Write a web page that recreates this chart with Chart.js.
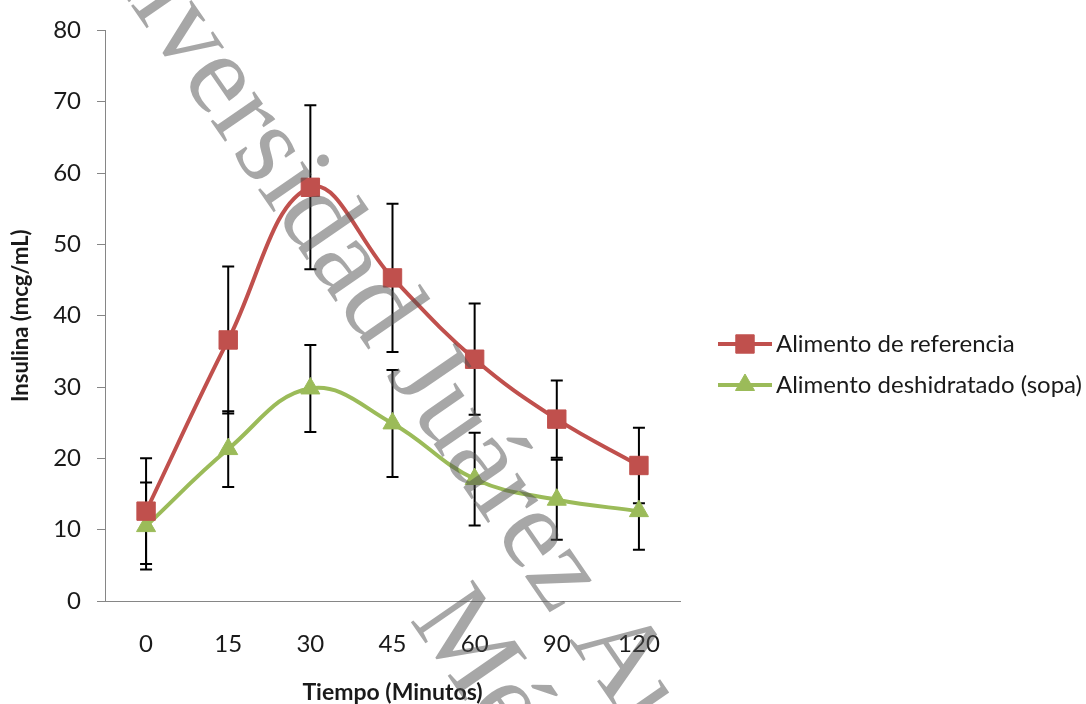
<!DOCTYPE html>
<html>
<head>
<meta charset="utf-8">
<script src="https://cdn.jsdelivr.net/npm/chart.js@4.4.1/dist/chart.umd.min.js"></script>
<style>
  html, body { margin: 0; padding: 0; background: #fff; }
  #wrap { width: 1086px; height: 704px; position: relative; }
</style>
</head>
<body>
<div id="wrap"><canvas id="insulinaChart"></canvas></div>
<script>
// Datos
const categorias = ['0', '15', '30', '45', '60', '90', '120'];
const referencia = [12.6, 36.6, 58.0, 45.3, 33.9, 25.5, 19.0];
const referenciaErr = [7.4, 10.3, 11.5, 10.4, 7.8, 5.4, 5.3];
const sopa = [10.5, 21.3, 29.8, 24.9, 17.1, 14.2, 12.6];
const sopaErr = [6.1, 5.3, 6.1, 7.5, 6.5, 5.6, 5.4];
const ticksY = [0, 10, 20, 30, 40, 50, 60, 70, 80];

const etiquetas = ['Alimento de referencia', 'Alimento deshidratado (sopa)'];
const rojo = '#C0504D';
const verde = '#9BBB59';
const gris = '#868686';
const fuente = 'Lato, "Open Sans", sans-serif';

// Barras de error dibujadas con las escalas del gráfico
const barrasError = {
	id: 'barrasError',
	beforeDatasetsDraw(chart) {
		const ctx = chart.ctx;
		const x = chart.scales.x;
		const y = chart.scales.y;
		const errores = [referenciaErr, sopaErr];
		ctx.save();
		ctx.strokeStyle = '#000';
		ctx.lineWidth = 2;
		chart.data.datasets.forEach(function(ds, i) {
			ds.data.forEach(function(v, j) {
				const px = x.getPixelForValue(j);
				const top = y.getPixelForValue(v + errores[i][j]);
				const bot = y.getPixelForValue(v - errores[i][j]);
				ctx.beginPath();
				ctx.moveTo(px, top);
				ctx.lineTo(px, bot);
				ctx.moveTo(px - 6, top);
				ctx.lineTo(px + 6, top);
				ctx.moveTo(px - 6, bot);
				ctx.lineTo(px + 6, bot);
				ctx.stroke();
			});
		});
		ctx.restore();
	}
};

// Leyenda: línea con marcador al centro
const leyenda = {
	id: 'leyenda',
	afterDraw(chart) {
		const ctx = chart.ctx;
		const filas = [344, 385];
		ctx.save();
		chart.data.datasets.forEach(function(ds, i) {
			const yy = filas[i];
			ctx.strokeStyle = ds.borderColor;
			ctx.lineWidth = 4;
			ctx.beginPath();
			ctx.moveTo(718, yy);
			ctx.lineTo(772, yy);
			ctx.stroke();
			ctx.fillStyle = ds.backgroundColor;
			ctx.strokeStyle = ds.borderColor;
			ctx.lineWidth = 1;
			Chart.helpers.drawPoint(ctx, {
				pointStyle: ds.pointStyle,
				radius: ds.pointRadius,
				borderWidth: 1
			}, 745, yy);
			ctx.fillStyle = '#1a1a1a';
			ctx.font = '24px ' + fuente;
			ctx.textBaseline = 'middle';
			ctx.textAlign = 'left';
			ctx.fillText(ds.label, 776, yy);
		});
		ctx.restore();
	}
};

// Marca de agua
const marcaAgua = {
	id: 'marcaAgua',
	afterDraw(chart) {
		const ctx = chart.ctx;
		ctx.save();
		ctx.fillStyle = 'rgba(80, 80, 80, 0.5)';
		ctx.font = '115px "Liberation Serif", "DejaVu Serif", serif';
		ctx.textBaseline = 'alphabetic';
		ctx.translate(50, -112);
		ctx.rotate(55.4 * Math.PI / 180);
		ctx.fillText('Universidad Juárez Autónoma de Tabasco', 0, 0);
		ctx.fillText('México', 806, 120);
		ctx.restore();
	}
};

const ctx = document.getElementById('insulinaChart');

new Chart(ctx, {
	type: 'line',
	data: {
		labels: categorias,
		datasets: [
			{
				label: etiquetas[0],
				data: referencia,
				borderColor: rojo,
				backgroundColor: rojo,
				borderWidth: 4,
				tension: 0.4,
				pointStyle: 'rect',
				pointRadius: 13,
				pointBorderWidth: 1,
				pointBackgroundColor: rojo,
				pointBorderColor: rojo,
				fill: false
			},
			{
				label: etiquetas[1],
				data: sopa,
				borderColor: verde,
				backgroundColor: verde,
				borderWidth: 4,
				tension: 0.4,
				pointStyle: 'triangle',
				pointRadius: 11,
				pointBorderWidth: 1,
				pointBackgroundColor: verde,
				pointBorderColor: verde,
				fill: false
			}
		]
	},
	options: {
		responsive: true,
		maintainAspectRatio: false,
		animation: false,
		layout: {
			padding: { left: 0, right: 406, top: 25, bottom: 0 }
		},
		plugins: {
			legend: { display: false },
			tooltip: { enabled: false }
		},
		scales: {
			x: {
				offset: true,
				grid: { display: false },
				border: { display: true, color: gris, width: 1 },
				ticks: {
					color: '#1a1a1a',
					padding: 21,
					font: { family: fuente, size: 24 }
				},
				title: {
					display: true,
					text: 'Tiempo (Minutos)',
					color: '#1a1a1a',
					padding: { top: 0, bottom: -2 },
					font: { family: fuente, size: 23, weight: 'bold' }
				},
				afterFit: function(scale) { scale.height = 103; }
			},
			y: {
				min: 0,
				max: 80,
				afterBuildTicks: function(scale) {
					scale.ticks = ticksY.map(v => ({ value: v }));
				},
				grid: {
					display: true,
					drawOnChartArea: false,
					drawTicks: true,
					tickLength: 8,
					color: gris
				},
				border: { display: true, color: gris, width: 1 },
				ticks: {
					color: '#1a1a1a',
					padding: 16,
					font: { family: fuente, size: 24 }
				},
				title: {
					display: true,
					text: 'Insulina (mcg/mL)',
					color: '#1a1a1a',
					padding: { top: 8, bottom: 0 },
					font: { family: fuente, size: 22, weight: 'bold' }
				},
				afterFit: function(scale) { scale.width = 105; }
			}
		}
	},
	plugins: [barrasError, leyenda, marcaAgua]
});
</script>
</body>
</html>
